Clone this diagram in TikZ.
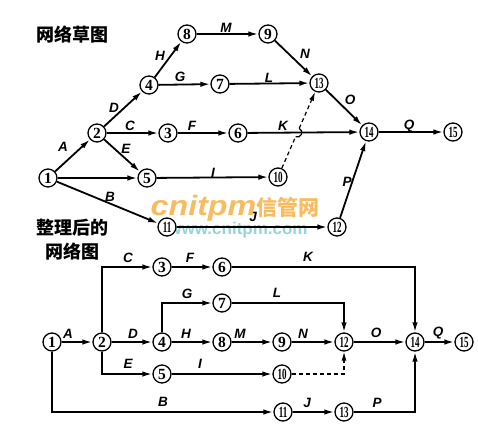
\documentclass[tikz,border=0pt]{standalone}
\usepackage{fontspec}
\usepackage{graphicx}
\setmainfont{Liberation Serif}
\setsansfont{Liberation Sans}
\newfontfamily\cjk{Noto Sans CJK SC}
\usetikzlibrary{arrows.meta,calc}
\definecolor{wmorange}{RGB}{248,188,96}
\definecolor{wmteal}{RGB}{150,212,218}
\newcommand\mytwo[1]{\scalebox{0.58}[1]{#1}}
\begin{document}
\begin{tikzpicture}[x=1pt,y=1pt,
  ev/.style={circle,draw,line width=1.3pt,minimum size=18pt,inner sep=0pt,fill=white,font=\bfseries\fontsize{15.5}{15.5}\selectfont},
  arr/.style={line width=1.8pt,-{Latex[length=10pt,width=5.5pt]}},
  lbl/.style={font=\sffamily\bfseries\itshape\fontsize{13.5}{13.5}\selectfont,inner sep=0pt},
  ttl/.style={font=\cjk\bfseries\fontsize{18}{18}\selectfont,inner sep=0pt},
  dsh/.style={dash pattern=on 4pt off 3pt}]
\useasboundingbox (0,0) rectangle (478,424);
% watermark
\node[inner sep=0pt,text=wmorange,font=\sffamily\bfseries\itshape\fontsize{28}{28}\selectfont] (wm1) at (235,216) {\scalebox{1.15}[1]{cnitpm}\cjk\bfseries\upshape\fontsize{21}{21}\selectfont 信管网};
\node[inner sep=0pt,text=wmteal,font=\sffamily\bfseries\fontsize{17}{17}\selectfont] (wm2) at (238,194) {www.cnitpm.com};

% ---------- top sketch ----------
\node[ttl] (t1) at (72,389) {网络草图};
\node[ev] (a1) at (48,246) {1};
\node[ev] (a2) at (97,291) {2};
\node[ev] (a3) at (168,291) {3};
\node[ev] (a4) at (149,339) {4};
\node[ev] (a5) at (147,246) {5};
\node[ev] (a6) at (238,291) {6};
\node[ev] (a7) at (220,340) {7};
\node[ev] (a8) at (187,390) {8};
\node[ev] (a9) at (268,390) {9};
\node[ev] (a10) at (278,247) {\mytwo{10}};
\node[ev] (a11) at (167,197) {\mytwo{11}};
\node[ev] (a12) at (337,197) {\mytwo{12}};
\node[ev] (a13) at (319,341) {\mytwo{13}};
\node[ev] (a14) at (369,292) {\mytwo{14}};
\node[ev] (a15) at (453,292) {\mytwo{15}};

\draw[arr] (a1) -- (a2);
\draw[arr] (a2) -- (a4);
\draw[arr] (a4) -- (a8);
\draw[arr] (a8) -- (a9);
\draw[arr] (a9) -- (a13);
\draw[arr] (a4) -- (a7);
\draw[arr] (a7) -- (a13);
\draw[arr] (a2) -- (a3);
\draw[arr] (a3) -- (a6);
\draw[arr] (a6) -- (a14);
\draw[arr] (a13) -- (a14);
\draw[arr] (a14) -- (a15);
\draw[arr] (a2) -- (a5);
\draw[arr] (a1) -- (a5);
\draw[arr] (a5) -- (a10);
\draw[arr] (a1) -- (a11);
\draw[arr] (a11) -- (a12);
\draw[arr] (a12) -- (a14);
\coordinate (cx) at (intersection of a10--a13 and a6--a14);
\draw[line width=1.2pt,dsh] (a10) -- ($(cx)!4.5pt!(a10)$);
\draw[line width=1.2pt] ($(cx)!4.5pt!(a10)$) arc[start angle=246.4,end angle=426.4,radius=4.5pt];
\draw[line width=1.2pt,dsh,-{Latex[length=9pt,width=5pt]}] ($(cx)!4.5pt!(a13)$) -- (a13);

\node[lbl] (la) at (63,277) {A};
\node[lbl] (lb) at (110,227) {B};
\node[lbl] (lc) at (130,298) {C};
\node[lbl] (ld) at (114,316) {D};
\node[lbl] (le) at (126,275) {E};
\node[lbl] (lf) at (192,298) {F};
\node[lbl] (lg) at (180,347) {G};
\node[lbl] (lh) at (160,368) {H};
\node[lbl] (li) at (213,251) {I};
\node[lbl] (lm) at (226,396) {M};
\node[lbl] (ln) at (305,370) {N};
\node[lbl] (ll) at (269,346) {L};
\node[lbl] (lk) at (283,298) {K};
\node[lbl] (lo) at (350,324) {O};
\node[lbl] (lq) at (409,298) {Q};
\node[lbl] (lp) at (347,242) {P};
\node[lbl] (lj) at (253,207) {J};

% ---------- arranged network ----------
\node[ttl] (t2) at (72,196) {整理后的};
\node[ttl] (t3) at (72,172) {网络图};
\node[ev] (b1) at (52,82) {1};
\node[ev] (b2) at (102,82) {2};
\node[ev] (b3) at (162,157) {3};
\node[ev] (b4) at (162,82) {4};
\node[ev] (b5) at (162,50) {5};
\node[ev] (b6) at (222,157) {6};
\node[ev] (b7) at (222,121) {7};
\node[ev] (b8) at (222,82) {8};
\node[ev] (b9) at (282,82) {9};
\node[ev] (b10) at (282,50) {\mytwo{10}};
\node[ev] (b11) at (283,12) {\mytwo{11}};
\node[ev] (b12) at (344,82) {\mytwo{12}};
\node[ev] (b13) at (344,12) {\mytwo{13}};
\node[ev] (b14) at (415,82) {\mytwo{14}};
\node[ev] (b15) at (464,82) {\mytwo{15}};

\draw[arr] (b1) -- (b2);
\draw[arr] (b2) -- (b4);
\draw[arr] (b4) -- (b8);
\draw[arr] (b8) -- (b9);
\draw[arr] (b9) -- (b12);
\draw[arr] (b12) -- (b14);
\draw[arr] (b14) -- (b15);
\draw[arr] (b2) |- (b3);
\draw[arr] (b3) -- (b6);
\draw[arr] (b6) -| (b14);
\draw[arr] (b4) |- (b7);
\draw[arr] (b7) -| (b12);
\draw[arr] (b2) |- (b5);
\draw[arr] (b5) -- (b10);
\draw[line width=1.2pt,dsh,-{Latex[length=9pt,width=5pt]}] (b10) -| (b12);
\draw[arr] (b1) |- (b11);
\draw[arr] (b11) -- (b13);
\draw[arr] (b13) -| (b14);

\node[lbl] (ma) at (68,90) {A};
\node[lbl] (mc) at (128,166) {C};
\node[lbl] (mf) at (190,166) {F};
\node[lbl] (mg) at (187,130) {G};
\node[lbl] (md) at (133,90) {D};
\node[lbl] (mh) at (186,90) {H};
\node[lbl] (me) at (128,60) {E};
\node[lbl] (mi) at (200,60) {I};
\node[lbl] (mb) at (163,22) {B};
\node[lbl] (mm) at (240,90) {M};
\node[lbl] (mn) at (303,90) {N};
\node[lbl] (mo) at (376,91) {O};
\node[lbl] (mq) at (438,91) {Q};
\node[lbl] (mk) at (308,167) {K};
\node[lbl] (ml) at (277,131) {L};
\node[lbl] (mj) at (307,21) {J};
\node[lbl] (mp) at (377,21) {P};
\end{tikzpicture}
\end{document}
